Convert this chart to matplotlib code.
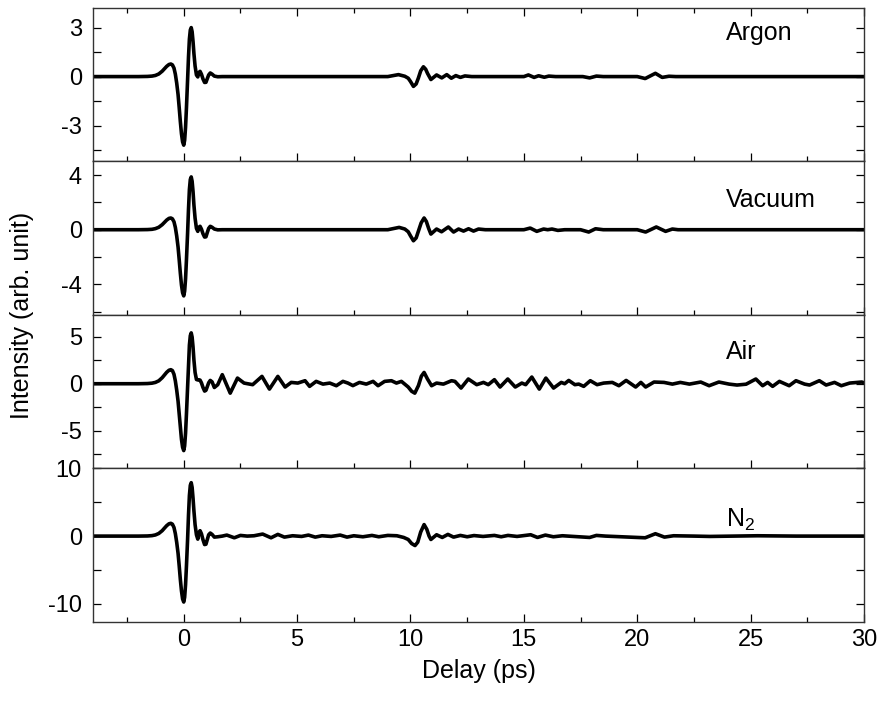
import numpy as np
import matplotlib.pyplot as plt
from matplotlib.ticker import MultipleLocator

plt.rcParams['font.family'] = ['Liberation Sans', 'DejaVu Sans']
plt.rcParams['axes.unicode_minus'] = False
plt.rcParams['mathtext.default'] = 'regular'

# ===== Data =====

# main pulse time grid (ps), shared by all four panels
pulse_t = [-4.0, -2.0, -1.6, -1.4, -1.25, -1.1, -0.95, -0.85, -0.75, -0.65, -0.57, -0.5,
           -0.43, -0.37, -0.31, -0.25, -0.2, -0.15, -0.1, -0.05, 0.0, 0.04, 0.08, 0.12,
           0.17, 0.21, 0.25, 0.29, 0.33, 0.37, 0.41, 0.45, 0.5, 0.56, 0.62, 0.67,
           0.72, 0.78, 0.85, 0.92, 0.98, 1.04, 1.1, 1.17, 1.25, 1.35, 1.5, 1.7]

argon_pulse = [0, 0, 0.01, 0.03, 0.07, 0.16, 0.33, 0.48, 0.63, 0.74, 0.77, 0.72,
               0.52, 0.15, -0.4, -1.1, -1.9, -2.75, -3.5, -4.0, -4.2, -3.9, -3.1, -1.9,
               -0.2, 1.2, 2.3, 2.85, 3.0, 2.75, 2.15, 1.4, 0.65, 0.1, -0.02, 0.25,
               0.32, 0.15, -0.15, -0.36, -0.35, -0.12, 0.1, 0.22, 0.15, 0.03, -0.01, 0]
argon_tail_t = [9.0, 9.47, 9.75, 9.9, 10.0, 10.13, 10.25, 10.35, 10.45, 10.57, 10.67,
                10.75, 10.9, 11.15, 11.38, 11.6, 11.8, 12.0, 12.2, 12.4, 12.7, 15.0,
                15.2, 15.45, 15.65, 15.9, 16.1, 16.4, 17.6, 17.9, 18.2, 18.5, 20.0,
                20.35, 20.8, 21.1, 21.4, 21.7, 30.0]
argon_tail_y = [0, 0.12, 0.02, -0.1, -0.3, -0.6, -0.45, -0.08, 0.35, 0.6, 0.45,
                0.2, -0.18, 0.1, -0.08, 0.12, -0.1, 0.06, -0.05, 0.04, 0, 0,
                0.1, -0.05, 0.05, -0.04, 0.03, 0, 0, -0.08, 0.03, 0, 0,
                -0.12, 0.2, -0.05, 0.02, 0, 0]

vacuum_pulse = [0, 0, 0.01, 0.03, 0.08, 0.18, 0.37, 0.54, 0.71, 0.83, 0.86, 0.8,
                0.58, 0.17, -0.46, -1.27, -2.2, -3.18, -4.05, -4.62, -4.85, -4.5, -3.6, -2.2,
                -0.25, 1.5, 2.95, 3.68, 3.87, 3.55, 2.8, 1.8, 0.85, 0.1, -0.12, 0.18,
                0.25, 0.05, -0.3, -0.54, -0.52, -0.2, 0.1, 0.25, 0.18, 0.05, -0.01, 0]
vacuum_tail_t = [9.0, 9.5, 9.75, 9.9, 10.0, 10.13, 10.25, 10.35, 10.47, 10.6, 10.7,
                 10.8, 10.9, 11.15, 11.37, 11.67, 11.9, 12.12, 12.34, 12.56, 12.78, 13.0,
                 13.3, 15.0, 15.28, 15.57, 15.87, 16.05, 16.24, 16.5, 16.8, 17.5, 17.86,
                 18.16, 18.5, 20.0, 20.37, 20.84, 21.25, 21.55, 21.8, 30.0]
vacuum_tail_y = [0, 0.17, 0.05, -0.15, -0.45, -0.81, -0.6, -0.1, 0.5, 0.86, 0.6,
                 0.1, -0.32, 0.05, -0.15, 0.2, -0.17, 0.05, -0.1, 0.07, -0.1, 0.05,
                 0, 0, 0.12, -0.12, 0.05, 0, 0.05, -0.05, 0, 0, -0.17,
                 0.07, 0, 0, -0.17, 0.2, -0.12, 0.05, 0, 0]

air_pulse = [0, 0, 0.02, 0.06, 0.14, 0.31, 0.64, 0.93, 1.22, 1.43, 1.49, 1.4,
             1.0, 0.3, -0.68, -1.86, -3.2, -4.65, -5.9, -6.75, -7.1, -6.6, -5.25, -3.2,
             -0.35, 2.15, 4.1, 5.1, 5.4, 4.95, 3.9, 2.5, 1.2, 0.45, 0.4, 0.42,
             0.38, 0.1, -0.4, -0.78, -0.7, -0.3, 0.1, 0.35, 0.2, -0.4, -0.1, 0.96]
air_tail_t = [2.05, 2.37, 2.66, 3.04, 3.45, 3.78, 4.15, 4.47, 4.74, 5.03,
              5.35, 5.55, 5.84, 6.14, 6.44, 6.73, 7.02, 7.24, 7.46, 7.75, 8.05, 8.35, 8.57,
              8.86, 9.16, 9.38, 9.6, 9.9, 10.05, 10.19, 10.35, 10.48, 10.6, 10.75, 10.93,
              11.15, 11.45, 11.81, 11.96, 12.23, 12.55, 12.92, 13.22, 13.43, 13.7, 13.95,
              14.29, 14.62, 14.91, 15.08, 15.35, 15.68, 15.97, 16.31, 16.65, 16.8, 16.98,
              17.25, 17.42, 17.64, 17.93, 18.23, 18.52, 18.9, 19.19, 19.51, 19.93, 20.16,
              20.37, 20.74, 21.18, 21.55, 21.9, 22.3, 22.8, 23.17, 23.6, 24.05, 24.4, 24.8,
              25.23, 25.53, 25.75, 25.97, 26.27, 26.7, 27.0, 27.38, 27.6, 28.03, 28.33,
              28.7, 29.0, 29.37, 29.9, 30.0]
air_tail_y = [-1.0, 0.6, 0.07, -0.1, 0.78, -0.57, 0.78, -0.35, 0.14, 0.07,
              0.32, -0.28, 0.25, -0.04, 0.07, -0.21, 0.25, 0.07, -0.2, 0.14, -0.04, 0.25, -0.21,
              0.25, 0.32, 0.07, 0.25, -0.35, -0.8, -1.0, -0.2, 0.8, 1.2, 0.5, -0.21,
              0.07, -0.04, 0.32, 0.25, -0.46, 0.5, -0.1, 0.14, -0.1, 0.43, -0.35,
              0.5, -0.35, 0.07, -0.1, 0.71, -0.57, 0.6, -0.46, 0.14, 0, 0.35,
              -0.1, -0.04, -0.28, 0.32, -0.1, 0.07, 0.14, -0.21, 0.35, -0.35, 0.14,
              -0.35, 0.18, 0.14, -0.04, 0.14, -0.04, 0.18, -0.21, 0.18, -0.04, -0.14, -0.05,
              0.5, -0.21, 0.14, -0.28, 0.25, -0.21, 0.32, -0.04, -0.14, 0.32, -0.14,
              0.14, -0.21, 0.07, 0.18, 0.1]

n2_pulse = [0, 0, 0.02, 0.07, 0.17, 0.39, 0.8, 1.18, 1.55, 1.82, 1.89, 1.77,
            1.27, 0.37, -0.93, -2.55, -4.4, -6.4, -8.1, -9.3, -9.75, -9.05, -7.2, -4.4,
            -0.5, 3.1, 6.0, 7.5, 7.9, 7.2, 5.6, 3.7, 1.7, 0.2, -0.45, 0.55,
            0.8, 0.35, -0.55, -1.25, -1.2, -0.5, 0.2, 0.45, 0.25, -0.15, -0.1, 0]
n2_tail_t = [1.9, 2.23, 2.5, 2.8, 3.1, 3.48, 3.85, 4.15, 4.44, 4.8, 5.2, 5.5, 5.8,
             6.1, 6.5, 6.9, 7.2, 7.5, 7.9, 8.3, 8.6, 9.0, 9.4, 9.7, 9.9, 10.05, 10.2,
             10.32, 10.45, 10.6, 10.72, 10.82, 10.9, 11.15, 11.4, 11.65, 11.9, 12.2,
             12.5, 12.8, 13.2, 13.7, 14.0, 14.3, 14.7, 15.3, 15.6, 15.95, 16.3, 16.7,
             17.9, 18.2, 18.6, 20.35, 20.8, 21.2, 21.6, 22.5, 23.2, 25.3, 27.0, 30.0]
n2_tail_y = [0.15, -0.25, 0.1, 0, 0.05, 0.3, -0.25, 0.25, -0.15, 0.05, -0.05, 0.15, -0.15,
             0.05, -0.05, 0.15, -0.15, 0.05, -0.1, 0.1, -0.1, 0.1, 0.05, -0.2, -0.5, -1.1, -1.4,
             -0.9, 0.6, 1.7, 1.0, 0, -0.5, 0.2, -0.2, 0.25, -0.15, 0.1,
             -0.1, 0.08, -0.05, 0.1, -0.1, 0.1, -0.05, 0.2, -0.2, 0.15, -0.1, 0.05,
             -0.2, 0.1, 0, -0.25, 0.35, -0.15, 0.05, 0, -0.05, 0.05, 0, 0]

panel_names = ["Argon", "Vacuum", "Air", "N$_2$"]
panel_ylims = [(-5.2, 4.2), (-6.25, 5.0), (-9.0, 7.3), (-12.7, 10.0)]
panel_yticks = [[-3, 0, 3], [-4, 0, 4], [-5, 0, 5], [-10, 0, 10]]
panel_minor = [1.5, 2, 2.5, 5]
label_y = [0.84, 0.75, 0.76, 0.665]

series = [
    (np.concatenate([pulse_t, argon_tail_t]), np.concatenate([argon_pulse, argon_tail_y])),
    (np.concatenate([pulse_t, vacuum_tail_t]), np.concatenate([vacuum_pulse, vacuum_tail_y])),
    (np.concatenate([pulse_t, air_tail_t]), np.concatenate([air_pulse, air_tail_y])),
    (np.concatenate([pulse_t, n2_tail_t]), np.concatenate([n2_pulse, n2_tail_y])),
]

# ===== Plot =====
fig, axes = plt.subplots(4, 1, sharex=True, figsize=(8.81, 7.02), dpi=100)
fig.subplots_adjust(left=0.1056, right=0.9807, top=0.9886, bottom=0.114, hspace=0)

for i, ax in enumerate(axes):
    t, y = series[i]
    ax.plot(t, y, color='black', linewidth=2.6, solid_joinstyle='round')
    ax.set_xlim(-4, 30)
    ax.set_ylim(*panel_ylims[i])
    ax.set_yticks(panel_yticks[i])
    ax.yaxis.set_minor_locator(MultipleLocator(panel_minor[i]))
    ax.xaxis.set_major_locator(MultipleLocator(5))
    ax.xaxis.set_minor_locator(MultipleLocator(2.5))
    ax.tick_params(axis='y', which='both', direction='in', length=6, width=0.9,
                   right=True, labelsize=17, pad=8)
    ax.tick_params(axis='x', which='major', direction='in', length=6, width=0.9,
                   top=(i == 0), labelsize=17, pad=5)
    ax.tick_params(axis='x', which='minor', direction='in', length=3.5, width=0.9,
                   top=(i == 0))
    for s in ax.spines.values():
        s.set_linewidth(1.0)
        s.set_color('#333333')
    ax.text(0.821, label_y[i], panel_names[i], transform=ax.transAxes,
            ha='left', va='center', fontsize=18)

axes[-1].set_xlabel("Delay (ps)", fontsize=18, labelpad=6)
fig.text(0.025, 0.55, "Intensity (arb. unit)", rotation=90, ha='center', va='center',
         fontsize=18)

plt.savefig("out.png", dpi=100)
